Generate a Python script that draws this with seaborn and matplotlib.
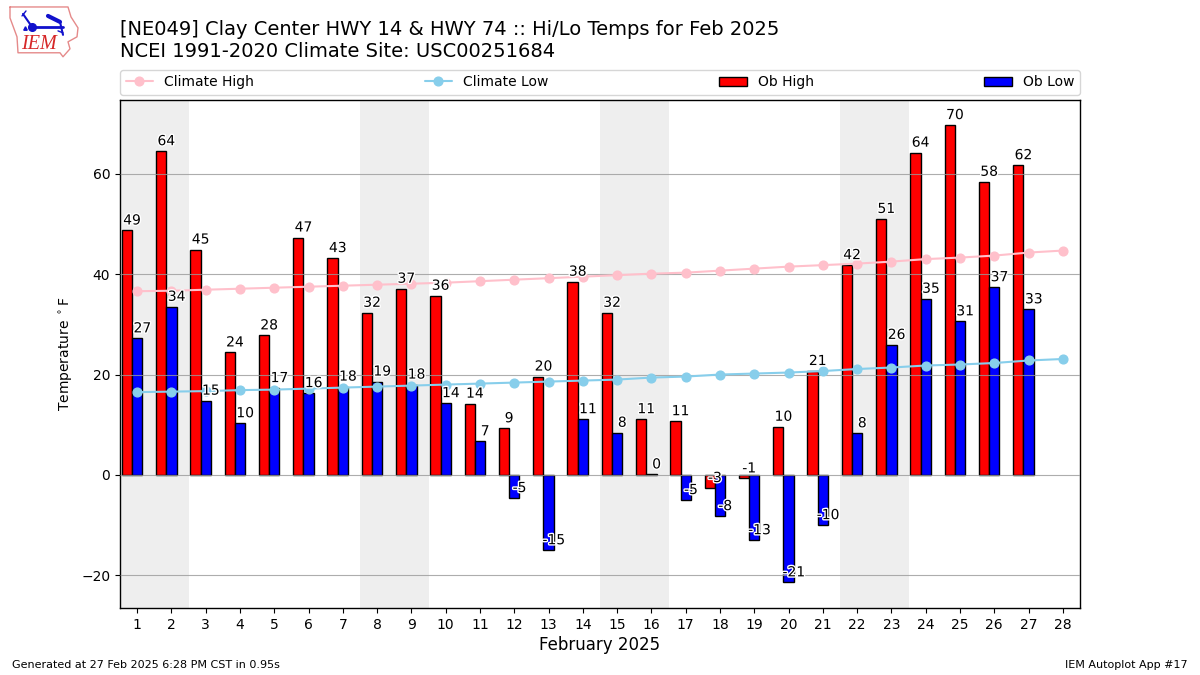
"""Hi/Lo temps for Feb 2025 at Clay Center, IEM autoplot look-alike."""

import matplotlib.patheffects as pe
import matplotlib.pyplot as plt
import numpy as np
import seaborn as sns

sns.set_style("ticks")
plt.rcParams.update({
    "font.family": ["DejaVu Sans"],
    "text.color": "black",
    "axes.labelcolor": "black",
    "axes.edgecolor": "black",
    "xtick.color": "black",
    "ytick.color": "black",
})

days = np.arange(1, 29)
ob_days = days[:27]
ob_high = [48.7, 64.5, 44.9, 24.4, 27.8, 47.3, 43.2, 32.3, 37.1, 35.7, 14.2, 9.3, 19.6, 38.5,
           32.3, 11.1, 10.7, -2.6, -0.7, 9.6, 20.7, 41.8, 51.0, 64.2, 69.7, 58.4, 61.7]
ob_low = [27.2, 33.5, 14.8, 10.3, 17.3, 16.3, 17.6, 18.6, 18.0, 14.3, 6.7, -4.6, -15.0, 11.1,
          8.4, 0.1, -5.0, -8.2, -13.0, -21.4, -10.0, 8.3, 25.9, 35.1, 30.6, 37.4, 33.0]
climate_high = [36.6, 36.7, 36.9, 37.1, 37.3, 37.5, 37.7, 37.9, 38.1, 38.3, 38.6, 38.9, 39.2, 39.5,
                39.8, 40.1, 40.3, 40.7, 41.1, 41.5, 41.8, 42.1, 42.5, 43.0, 43.3, 43.7, 44.3, 44.7]
climate_low = [16.5, 16.6, 16.7, 16.9, 17.0, 17.2, 17.4, 17.6, 17.8, 18.0, 18.2, 18.4, 18.6, 18.8,
               19.0, 19.4, 19.6, 20.0, 20.2, 20.4, 20.7, 21.1, 21.4, 21.8, 22.0, 22.3, 22.8, 23.1]
weekends = [(0.5, 2.5), (7.5, 9.5), (14.5, 16.5), (21.5, 23.5)]
y_ticks = [-20, 0, 20, 40, 60]

fig = plt.figure(figsize=(12, 6.75), dpi=100)
ax = fig.add_axes([0.1, 0.0993, 0.8, 0.7526])

for start, end in weekends:
    ax.axvspan(start, end, color="#eeeeee", lw=0, zorder=0)

bar_kw = dict(width=0.3, native_scale=True, errorbar=None, saturation=1,
              edgecolor="black", linewidth=1, ax=ax, zorder=2)
sns.barplot(x=ob_days - 0.3, y=ob_high, color="red", label="Ob High", **bar_kw)
sns.barplot(x=ob_days * 1.0, y=ob_low, color="blue", label="Ob Low", **bar_kw)

line_kw = dict(marker="o", markersize=6.3, markeredgewidth=1, linewidth=1.5, ax=ax, zorder=3)
sns.lineplot(x=days, y=climate_high, color="pink", markeredgecolor="pink", label="Climate High", **line_kw)
sns.lineplot(x=days, y=climate_low, color="skyblue", markeredgecolor="skyblue", label="Climate Low", **line_kw)

stroke = [pe.withStroke(linewidth=2, foreground="white")]
for day, hi, lo in zip(ob_days, ob_high, ob_low):
    ax.text(day - 0.15, hi + 0.6, f"{hi:.0f}", ha="center", va="bottom", fontsize=10,
            path_effects=stroke, zorder=4)
    ax.text(day + 0.15, lo + 0.6, f"{lo:.0f}", ha="center", va="bottom", fontsize=10,
            path_effects=stroke, zorder=4)

ax.grid(axis="y", color="#999999", linewidth=0.8, alpha=0.8, zorder=2.5)
ax.set_axisbelow(False)
ax.xaxis.grid(False)
ax.tick_params(axis="x", which="both", top=False)
ax.set_xticks(days)
ax.set_xticklabels([str(d) for d in days], fontsize=10)
ax.set_yticks(y_ticks)
ax.set_yticklabels([str(t).replace("-", "\u2212") for t in y_ticks], fontsize=10)
ax.set_xlim(0.5, 28.5)
ax.set_ylim(-26.5, 74.7)
ax.set_xlabel("February 2025", fontsize=12, labelpad=3)
ax.set_ylabel(r"Temperature $^\circ$F", fontsize=10, labelpad=4.3)
for spine in ax.spines.values():
    spine.set_visible(True)
    spine.set_linewidth(1)

handles, labels = ax.get_legend_handles_labels()
order = [labels.index(n) for n in ("Climate High", "Climate Low", "Ob High", "Ob Low")]
ax.legend([handles[i] for i in order], [labels[i] for i in order], ncol=4, mode="expand",
          loc="lower left", bbox_to_anchor=(0, 1.01, 1, 0.05), borderaxespad=0, fontsize=10,
          frameon=True, fancybox=True)

fig.text(0.1, 0.9100, "[NE049] Clay Center HWY 14 & HWY 74 :: Hi/Lo Temps for Feb 2025\n"
         "NCEI 1991-2020 Climate Site: USC00251684", fontsize=14, va="bottom", ha="left")
fig.text(0.01, 0.0105, "Generated at 27 Feb 2025 6:28 PM CST in 0.95s", fontsize=8)
fig.text(0.99, 0.0105, "IEM Autoplot App #17", fontsize=8, ha="right")

# rough IEM logo: state outline, wind barb, letters
logo = fig.add_axes([0.0, 0.91, 0.07, 0.09])
logo.set_xlim(0, 84)
logo.set_ylim(61, 0)
logo.axis("off")
logo.plot([10, 68, 71, 78, 77, 68, 70, 63, 60, 18, 17, 10, 10],
          [7, 7, 17, 28, 37, 42, 49, 57, 53, 53, 37, 18, 7], color="#e58a8a", lw=1)
logo.plot([32, 63], [27, 27], color="#1111cc", lw=2)
logo.plot([32], [27], "o", color="#1111cc", ms=5.5)
logo.plot([23, 32], [14, 27], color="#1111cc", lw=1.5)
logo.plot([22, 26], [16, 11], color="#1111cc", lw=1)
logo.plot([48, 60], [16, 22], color="#1111cc", lw=3)
logo.plot([60, 63], [22, 35], color="#1111cc", lw=1.5)
logo.plot([58, 63], [31, 33], color="#1111cc", lw=1)
logo.plot([25], [28], "^", color="#1111cc", ms=2.5)
logo.text(21, 45, "IEM", color="#d62728", fontsize=14.5, family="Liberation Serif",
          style="italic", ha="left", va="center")

fig.savefig("out.png", dpi=100)
